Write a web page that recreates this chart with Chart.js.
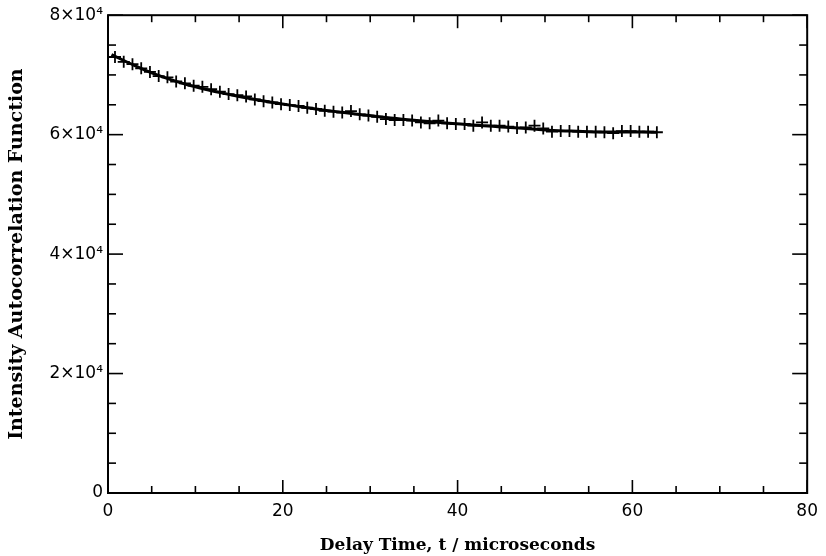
<!DOCTYPE html>
<html>
<head>
<meta charset="utf-8">
<script src="https://cdn.jsdelivr.net/npm/chart.js@4/dist/chart.umd.min.js"></script>
<style>
  html, body { margin: 0; padding: 0; background: #fff; }
  #chart { display: block; }
</style>
</head>
<body>
<canvas id="chart" width="826" height="556"></canvas>
<script>
// measured points (crosses)
const delayTimes = [0.8, 1.8, 2.8, 3.8, 4.8, 5.8, 6.8, 7.8, 8.8, 9.8, 10.8, 11.8, 12.8, 13.8, 14.8, 15.8,
  16.8, 17.8, 18.8, 19.8, 20.8, 21.8, 22.8, 23.8, 24.8, 25.8, 26.8, 27.8, 28.8, 29.8, 30.8, 31.8,
  32.8, 33.8, 34.8, 35.8, 36.8, 37.8, 38.8, 39.8, 40.8, 41.8, 42.8, 43.8, 44.8, 45.8, 46.8, 47.8,
  48.8, 49.8, 50.8, 51.8, 52.8, 53.8, 54.8, 55.8, 56.8, 57.8, 58.8, 59.8, 60.8, 61.8, 62.8];
const intensity = [73000, 72200, 71800, 71100, 70500, 69800, 69600, 68900, 68600, 68200, 68000, 67600, 67200, 66800, 66600, 66400,
  65900, 65600, 65400, 65100, 64950, 64800, 64500, 64300, 64000, 63850, 63700, 63950, 63400, 63200, 63000, 62600,
  62450, 62450, 62350, 62050, 61900, 62350, 61900, 61800, 61800, 61500, 62050, 61500, 61500, 61350, 61100, 61200,
  61500, 61050, 60500, 60600, 60600, 60500, 60500, 60500, 60400, 60250, 60600, 60600, 60500, 60500, 60400];

// fitted curve
const fitTimes = [0.4, 3, 5, 7, 9, 11, 13, 15, 17, 19, 21, 23, 25, 27, 29, 31,
  33, 35, 37, 39, 41, 43, 45, 47, 49, 51, 53, 55, 57, 59, 61, 62.8];
const fitValues = [73400, 71600, 70350, 69300, 68400, 67650, 67000, 66400, 65850, 65350, 64900, 64450, 64050, 63700, 63350, 63000,
  62700, 62400, 62150, 61900, 61700, 61500, 61300, 61100, 60900, 60700, 60600, 60500, 60450, 60450, 60450, 60400];

// minor tick positions
const xMinorTicks = [5, 10, 15, 25, 30, 35, 45, 50, 55, 65, 70, 75];
const yMinorTicks = [5000, 10000, 15000, 25000, 30000, 35000, 45000, 50000, 55000, 65000, 70000, 75000];

const tickLabel = v => v === 0 ? '0' : (v / 10000) + '\u00d710\u2074';

const frameTicks = {
  id: 'frameTicks',
  afterDatasetsDraw(chart) {
    const { ctx, chartArea: a, scales: { x, y } } = chart;
    ctx.save();
    ctx.strokeStyle = '#000';
    ctx.lineWidth = 2;
    ctx.strokeRect(a.left, a.top, a.right - a.left, a.bottom - a.top);
    ctx.lineWidth = 1.6;
    const mark = (x1, y1, x2, y2) => { ctx.beginPath(); ctx.moveTo(x1, y1); ctx.lineTo(x2, y2); ctx.stroke(); };
    x.ticks.forEach(t => {
      const px = x.getPixelForValue(t.value);
      mark(px, a.bottom, px, a.bottom - 13);
      mark(px, a.top, px, a.top + 13);
    });
    xMinorTicks.forEach(v => {
      const px = x.getPixelForValue(v);
      mark(px, a.bottom, px, a.bottom - 7);
      mark(px, a.top, px, a.top + 7);
    });
    y.ticks.forEach(t => {
      const py = y.getPixelForValue(t.value);
      mark(a.left, py, a.left + 15, py);
      mark(a.right, py, a.right - 15, py);
    });
    yMinorTicks.forEach(v => {
      const py = y.getPixelForValue(v);
      mark(a.left, py, a.left + 8, py);
      mark(a.right, py, a.right - 8, py);
    });
    ctx.restore();
  }
};

const tickFont = { family: 'DejaVu Sans', size: 17 };

new Chart(document.getElementById('chart'), {
  type: 'scatter',
  data: {
    datasets: [
      {
        data: fitTimes.map((t, i) => ({ x: t, y: fitValues[i] })),
        showLine: true,
        borderColor: '#000',
        borderWidth: 3,
        pointRadius: 0,
        cubicInterpolationMode: 'monotone'
      },
      {
        data: delayTimes.map((t, i) => ({ x: t, y: intensity[i] })),
        showLine: false,
        pointStyle: 'cross',
        pointRadius: 6,
        borderColor: '#000',
        borderWidth: 1.8
      }
    ]
  },
  options: {
    responsive: false,
    animation: false,
    devicePixelRatio: 1,
    layout: { padding: { top: 13, right: 16, bottom: 0, left: 0 } },
    plugins: { legend: { display: false }, tooltip: { enabled: false } },
    scales: {
      x: {
        type: 'linear', min: 0, max: 80,
        grid: { display: false, drawTicks: false },
        border: { display: false },
        ticks: { stepSize: 20, color: '#000', font: tickFont, padding: 8, maxRotation: 0 },
        title: {
          display: true, text: 'Delay Time, t / microseconds', color: '#000',
          font: { family: 'DejaVu Serif', size: 17, weight: 'bold' }, padding: { top: 0, bottom: 0 }
        },
        afterFit: s => { s.height = 63; }
      },
      y: {
        type: 'linear', min: 0, max: 80000,
        grid: { display: false, drawTicks: false },
        border: { display: false },
        ticks: { stepSize: 20000, color: '#000', font: tickFont, padding: 5, callback: tickLabel },
        title: {
          display: true, text: 'Intensity Autocorrelation Function', color: '#000',
          font: { family: 'DejaVu Serif', size: 19, weight: 'bold' }, padding: { top: 6, bottom: 0 }
        },
        afterFit: s => { s.width = 108; }
      }
    }
  },
  plugins: [frameTicks]
});
</script>
</body>
</html>
